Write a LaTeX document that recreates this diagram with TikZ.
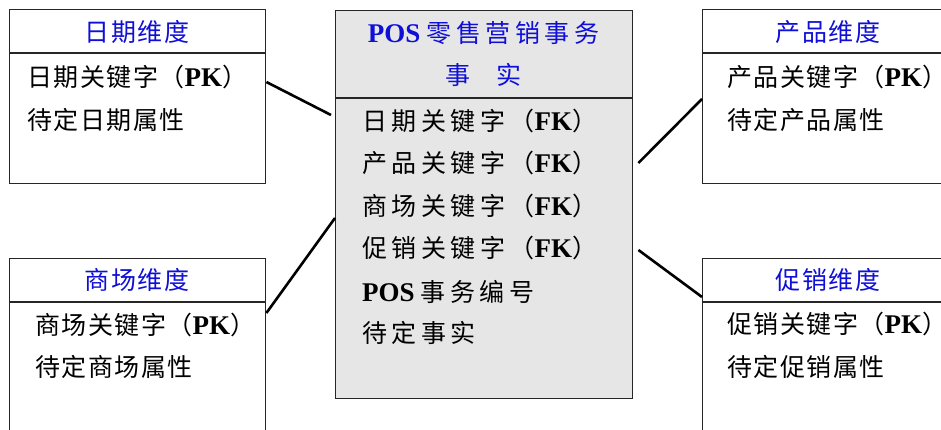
\documentclass[tikz,border=0pt]{standalone}
\usepackage{fontspec}
\setmainfont{Liberation Serif}
\newfontfamily\cjk[LetterSpace=6]{Noto Sans CJK SC}
\newfontfamily\cjkw[LetterSpace=18]{Noto Sans CJK SC}
\newfontfamily\latb[BoldFont={Liberation Serif Bold}]{Liberation Serif}
\newcommand\latbold[1]{{\latb\bfseries\fontsize{27}{30}\selectfont #1}}
\definecolor{ttlblue}{RGB}{15,15,215}
\definecolor{factfill}{RGB}{230,230,230}
\tikzset{
  boxst/.style={draw=black!85, line width=1.4pt, inner sep=0pt, anchor=north west},
  divst/.style={draw=black!85, line width=1.4pt},
  ttlst/.style={inner sep=0pt, text=ttlblue, font=\fontsize{25}{30}\selectfont},
  bodyst/.style={inner sep=0pt, anchor=west, text=black, font=\fontsize{25}{30}\selectfont},
  linkst/.style={draw=black, line width=2.6pt},
}
\begin{document}
\begin{tikzpicture}[x=1pt,y=-1pt]
\useasboundingbox (0,0) rectangle (941,430);
\clip (0,0) rectangle (941,430);
\fill[white] (0,0) rectangle (941,430);
% boxes
\node[boxst, fill=white, minimum width=256pt, minimum height=174pt] (date) at (9,9) {};
\node[boxst, fill=white, minimum width=300pt, minimum height=174pt] (prod) at (702,9) {};
\node[boxst, fill=white, minimum width=256pt, minimum height=200pt] (store) at (9,258) {};
\node[boxst, fill=white, minimum width=300pt, minimum height=200pt] (promo) at (702,258) {};
\node[boxst, fill=factfill, minimum width=297pt, minimum height=388pt] (fact) at (335,10) {};
% dividers
\draw[divst] ([yshift=-44pt]date.north west) -- ([yshift=-44pt]date.north east);
\draw[divst] ([yshift=-44pt]prod.north west) -- ([yshift=-44pt]prod.north east);
\draw[divst] ([yshift=-44pt]store.north west) -- ([yshift=-44pt]store.north east);
\draw[divst] ([yshift=-44pt]promo.north west) -- ([yshift=-44pt]promo.north east);
\draw[divst] ([yshift=-88pt]fact.north west) -- ([yshift=-88pt]fact.north east);
% titles
\node[ttlst] (datet) at (137,32) {\cjk 日期维度};
\node[ttlst] (prodt) at (828,32) {\cjk 产品维度};
\node[ttlst] (storet) at (137,280) {\cjk 商场维度};
\node[ttlst] (promot) at (828,280) {\cjk 促销维度};
\node[ttlst] (factt1) at (483.5,33) {\latbold{POS} \cjkw 零售营销事务};
\node[ttlst] (factt2) at (483.5,75) {\cjkw 事\hspace{26pt}实};
% body texts
\node[bodyst] (d1) at (27,77) {\cjk 日期关键字（\latbold{PK}）};
\node[bodyst] (d2) at (27,120) {\cjk 待定日期属性};
\node[bodyst] (p1) at (727,77) {\cjk 产品关键字（\latbold{PK}）};
\node[bodyst] (p2) at (727,120) {\cjk 待定产品属性};
\node[bodyst] (s1) at (35,325) {\cjk 商场关键字（\latbold{PK}）};
\node[bodyst] (s2) at (35,367) {\cjk 待定商场属性};
\node[bodyst] (r1) at (727,324) {\cjk 促销关键字（\latbold{PK}）};
\node[bodyst] (r2) at (727,367) {\cjk 待定促销属性};
\node[bodyst] (f1) at (362,121) {\cjkw 日期关键字（\latbold{FK}）};
\node[bodyst] (f2) at (362,163) {\cjkw 产品关键字（\latbold{FK}）};
\node[bodyst] (f3) at (362,206) {\cjkw 商场关键字（\latbold{FK}）};
\node[bodyst] (f4) at (362,248) {\cjkw 促销关键字（\latbold{FK}）};
\node[bodyst] (f5) at (362,292) {\latbold{POS} \cjkw 事务编号};
\node[bodyst] (f6) at (362,333) {\cjkw 待定事实};
% connectors
\draw[linkst] ([yshift=-73pt]date.north east) -- ([xshift=-4pt,yshift=-105pt]fact.north west);
\draw[linkst] ([xshift=5pt,yshift=-153pt]fact.north east) -- ([yshift=-90pt]prod.north west);
\draw[linkst] ([yshift=-55pt]store.north east) -- ([yshift=-208pt]fact.north west);
\draw[linkst] ([xshift=5pt,yshift=-240pt]fact.north east) -- ([yshift=-39pt]promo.north west);
\end{tikzpicture}
\end{document}
